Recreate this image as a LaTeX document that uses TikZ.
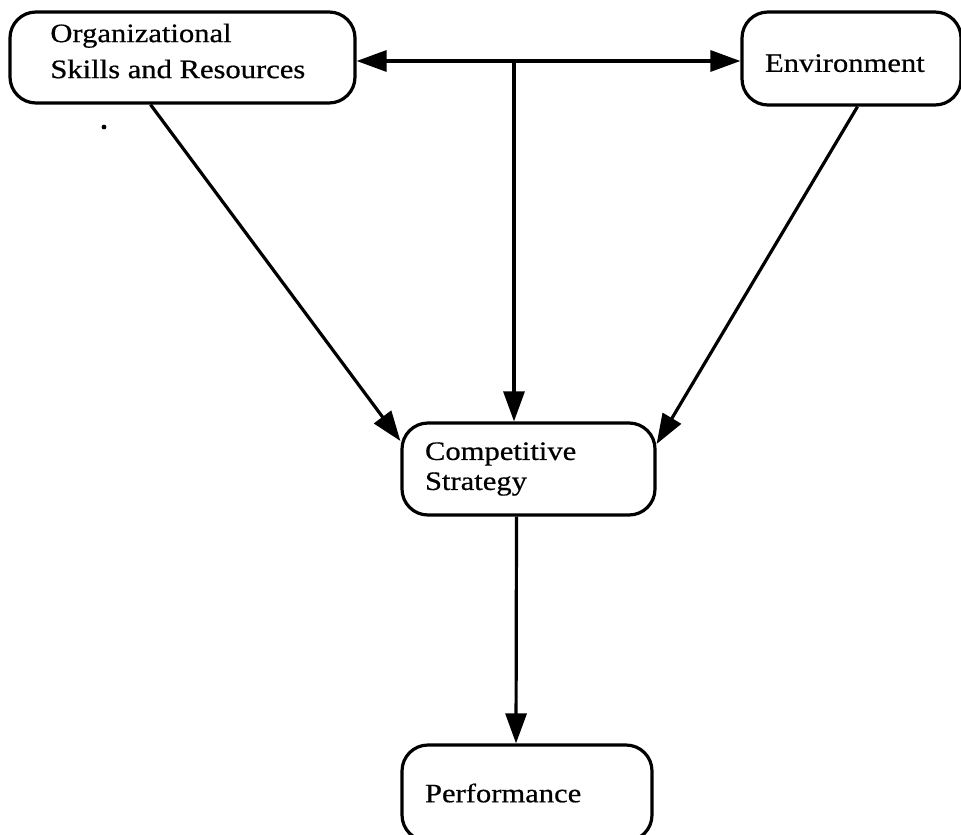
\documentclass[tikz,border=0pt]{standalone}
\usepackage{fontspec}
\setmainfont[FakeStretch=1.15,FakeBold=0.6]{Liberation Serif}
\usetikzlibrary{arrows.meta,calc}
\begin{document}
\begin{tikzpicture}[x=0.5pt,y=-0.5pt,
  box/.style={draw, line width=1.6pt, rounded corners=13pt, inner xsep=0pt, inner ysep=0pt,
    align=left, font=\fontsize{13.3}{18}\selectfont},
  txt/.style={inner sep=0pt, align=left, font=\fontsize{13.3}{18}\selectfont},
  arr/.style={line width=1.6pt, -{Triangle[length=15pt,width=10.5pt]}},
  darr/.style={line width=1.6pt, {Triangle[length=15pt,width=10.5pt]}-{Triangle[length=15pt,width=10.5pt]}}]
\useasboundingbox (0,0) rectangle (961,834);
\node[box, minimum width=172.5pt, minimum height=45.5pt] (org) at (182.5,57.5) {};
\node[txt, anchor=west] (orgtxt) at (50,51) {Organizational\\Skills and Resources};
\node[box, minimum width=109.5pt, minimum height=46.5pt, text width=86.5pt, text height=13.5pt] (env) at (851.5,58.5)
  {Environment};
\node[box, minimum width=126.5pt, minimum height=46pt, text width=103.5pt,
  font=\fontsize{13.3}{15}\selectfont] (comp) at (528.5,469)
  {Competitive\\Strategy};
\node[box, minimum width=125pt, minimum height=48pt, text width=102pt] (perf) at (527,793)
  {Performance};
\coordinate (hub) at (514,61);
\fill (104,127) circle (1.2pt);
\draw[darr] (org.east |- hub) -- (env.west |- hub);
\draw[arr] (hub) -- (comp.north -| hub);
\draw[arr] ($(org.south)+(-32,0)$) -- ($(comp.west)+(0,-28)$);
\draw[arr] ($(env.south)+(6,0)$) -- ($(comp.east)+(0,-25)$);
\draw[arr] ($(comp.south)+(-12,0)$) -- ($(perf.north)+(-11,0)$);
\end{tikzpicture}
\end{document}
